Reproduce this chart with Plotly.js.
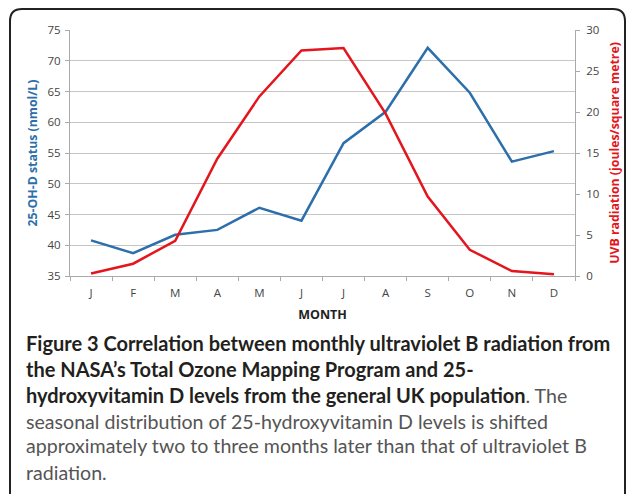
<!DOCTYPE html>
<html>
<head>
<meta charset="utf-8">
<script src="https://cdn.plot.ly/plotly-3.0.1.min.js"></script>
<style>
html,body{margin:0;padding:0;background:#fff;}
#chart{width:627px;height:494px;}
</style>
</head>
<body>
<div id="chart"></div>
<script>
// ---- data ----
const monthIndex = [0,1,2,3,4,5,6,7,8,9,10,11];
const monthLabels = ['J','F','M','A','M','J','J','A','S','O','N','D'];
const vitaminD = [40.8, 38.7, 41.7, 42.5, 46.1, 44.0, 56.6, 61.7, 72.1, 64.8, 53.6, 55.3];
const uvb = [0.3, 1.5, 4.3, 14.3, 21.9, 27.5, 27.8, 19.8, 9.7, 3.2, 0.6, 0.2];
const reg = s => '<span style="color:#555;font-size:19.6px">' + s + '</span>';
const captionLines = [
  '<b>Figure 3 Correlation between monthly ultraviolet B radiation from</b>',
  '<b>the NASA\u2019s Total Ozone Mapping Program and 25-</b>',
  '<b>hydroxyvitamin D levels from the general UK population</b>' + reg('. The'),
  reg('seasonal distribution of 25-hydroxyvitamin D levels is shifted'),
  reg('approximately two to three months later than that of ultraviolet B'),
  reg('radiation.')
];

// ---- layout geometry (pixels) ----
const W = 627, H = 494;
const L = 70, R = 575, T = 30, B = 276;
const px2x = p => (p - L) / (R - L);
const px2y = p => (B - p) / (B - T);

const blue = '#2c6fab';
const red = '#e3161d';

const traces = [
  {x: monthIndex, y: vitaminD, type: 'scatter', mode: 'lines',
   line: {color: blue, width: 2.5}, yaxis: 'y', hoverinfo: 'none'},
  {x: monthIndex, y: uvb, type: 'scatter', mode: 'lines',
   line: {color: red, width: 2.5}, yaxis: 'y2', hoverinfo: 'none'}
];

const captionY = [343, 369, 395, 421, 446, 472];
const annotations = captionLines.map((t, i) => ({
  text: t, xref: 'paper', yref: 'paper', x: px2x(24), y: px2y(captionY[i]),
  xanchor: 'left', yanchor: 'middle', showarrow: false, align: 'left',
  font: {family: 'Lato, sans-serif', size: 20, color: '#231f20'}
}));

// rounded border
const bx0 = px2x(10), bx1 = px2x(625), by0 = px2y(9), by1 = px2y(520);
const rx = 12 / (R - L), ry = 12 / (B - T);
const borderPath = `M ${bx0},${by1} L ${bx0},${by0 - ry} Q ${bx0},${by0} ${bx0 + rx},${by0} L ${bx1 - rx},${by0} Q ${bx1},${by0} ${bx1},${by0 - ry} L ${bx1},${by1}`;

const tickFont = {family: 'Open Sans, sans-serif', size: 11.5, color: '#444'};

const layout = {
  width: W, height: H,
  margin: {l: L, r: W - R, t: T, b: H - B, pad: 0},
  paper_bgcolor: '#fff', plot_bgcolor: '#fff',
  showlegend: false,
  xaxis: {
    range: [-0.5, 11.5], tickmode: 'array', tickvals: monthIndex, ticktext: monthLabels,
    ticks: '', showgrid: false, zeroline: false,
    showline: true, linecolor: '#aaa', linewidth: 1,
    tickfont: tickFont, ticklabelstandoff: 6,
    minor: {tickmode: 'linear', tick0: -0.5, dtick: 1, ticks: 'outside', ticklen: 4, tickcolor: '#aaa', showgrid: false},
    title: {text: '<b>MONTH</b>', font: {family: 'Open Sans, sans-serif', size: 12.5, color: '#222'}, standoff: 11},
    fixedrange: true
  },
  yaxis: {
    range: [35, 75], dtick: 5, tick0: 35,
    showgrid: true, gridcolor: '#c6c6c6', gridwidth: 1, zeroline: false,
    showline: true, linecolor: '#aaa', linewidth: 1,
    ticks: 'outside', ticklen: 4, tickcolor: '#aaa',
    tickfont: tickFont, ticklabelstandoff: 2,
    title: {text: '<b>25-OH-D status (nmol/L)</b>', font: {family: 'Open Sans, sans-serif', size: 12.3, color: blue}, standoff: 7},
    fixedrange: true
  },
  yaxis2: {
    range: [0, 30], dtick: 5, tick0: 0, overlaying: 'y', side: 'right',
    showgrid: false, zeroline: false,
    showline: true, linecolor: '#aaa', linewidth: 1,
    ticks: 'outside', ticklen: 4, tickcolor: '#aaa',
    tickfont: tickFont, ticklabelstandoff: 4,
    title: {text: '<b>UVB radiation (joules/square metre)</b>', font: {family: 'Open Sans, sans-serif', size: 12.3, color: red}, standoff: 11},
    fixedrange: true
  },
  shapes: [{type: 'path', path: borderPath, xref: 'paper', yref: 'paper',
    line: {color: '#222', width: 2}, layer: 'above'}],
  annotations: annotations
};

Plotly.newPlot('chart', traces, layout, {displayModeBar: false, staticPlot: true});
</script>
</body>
</html>
